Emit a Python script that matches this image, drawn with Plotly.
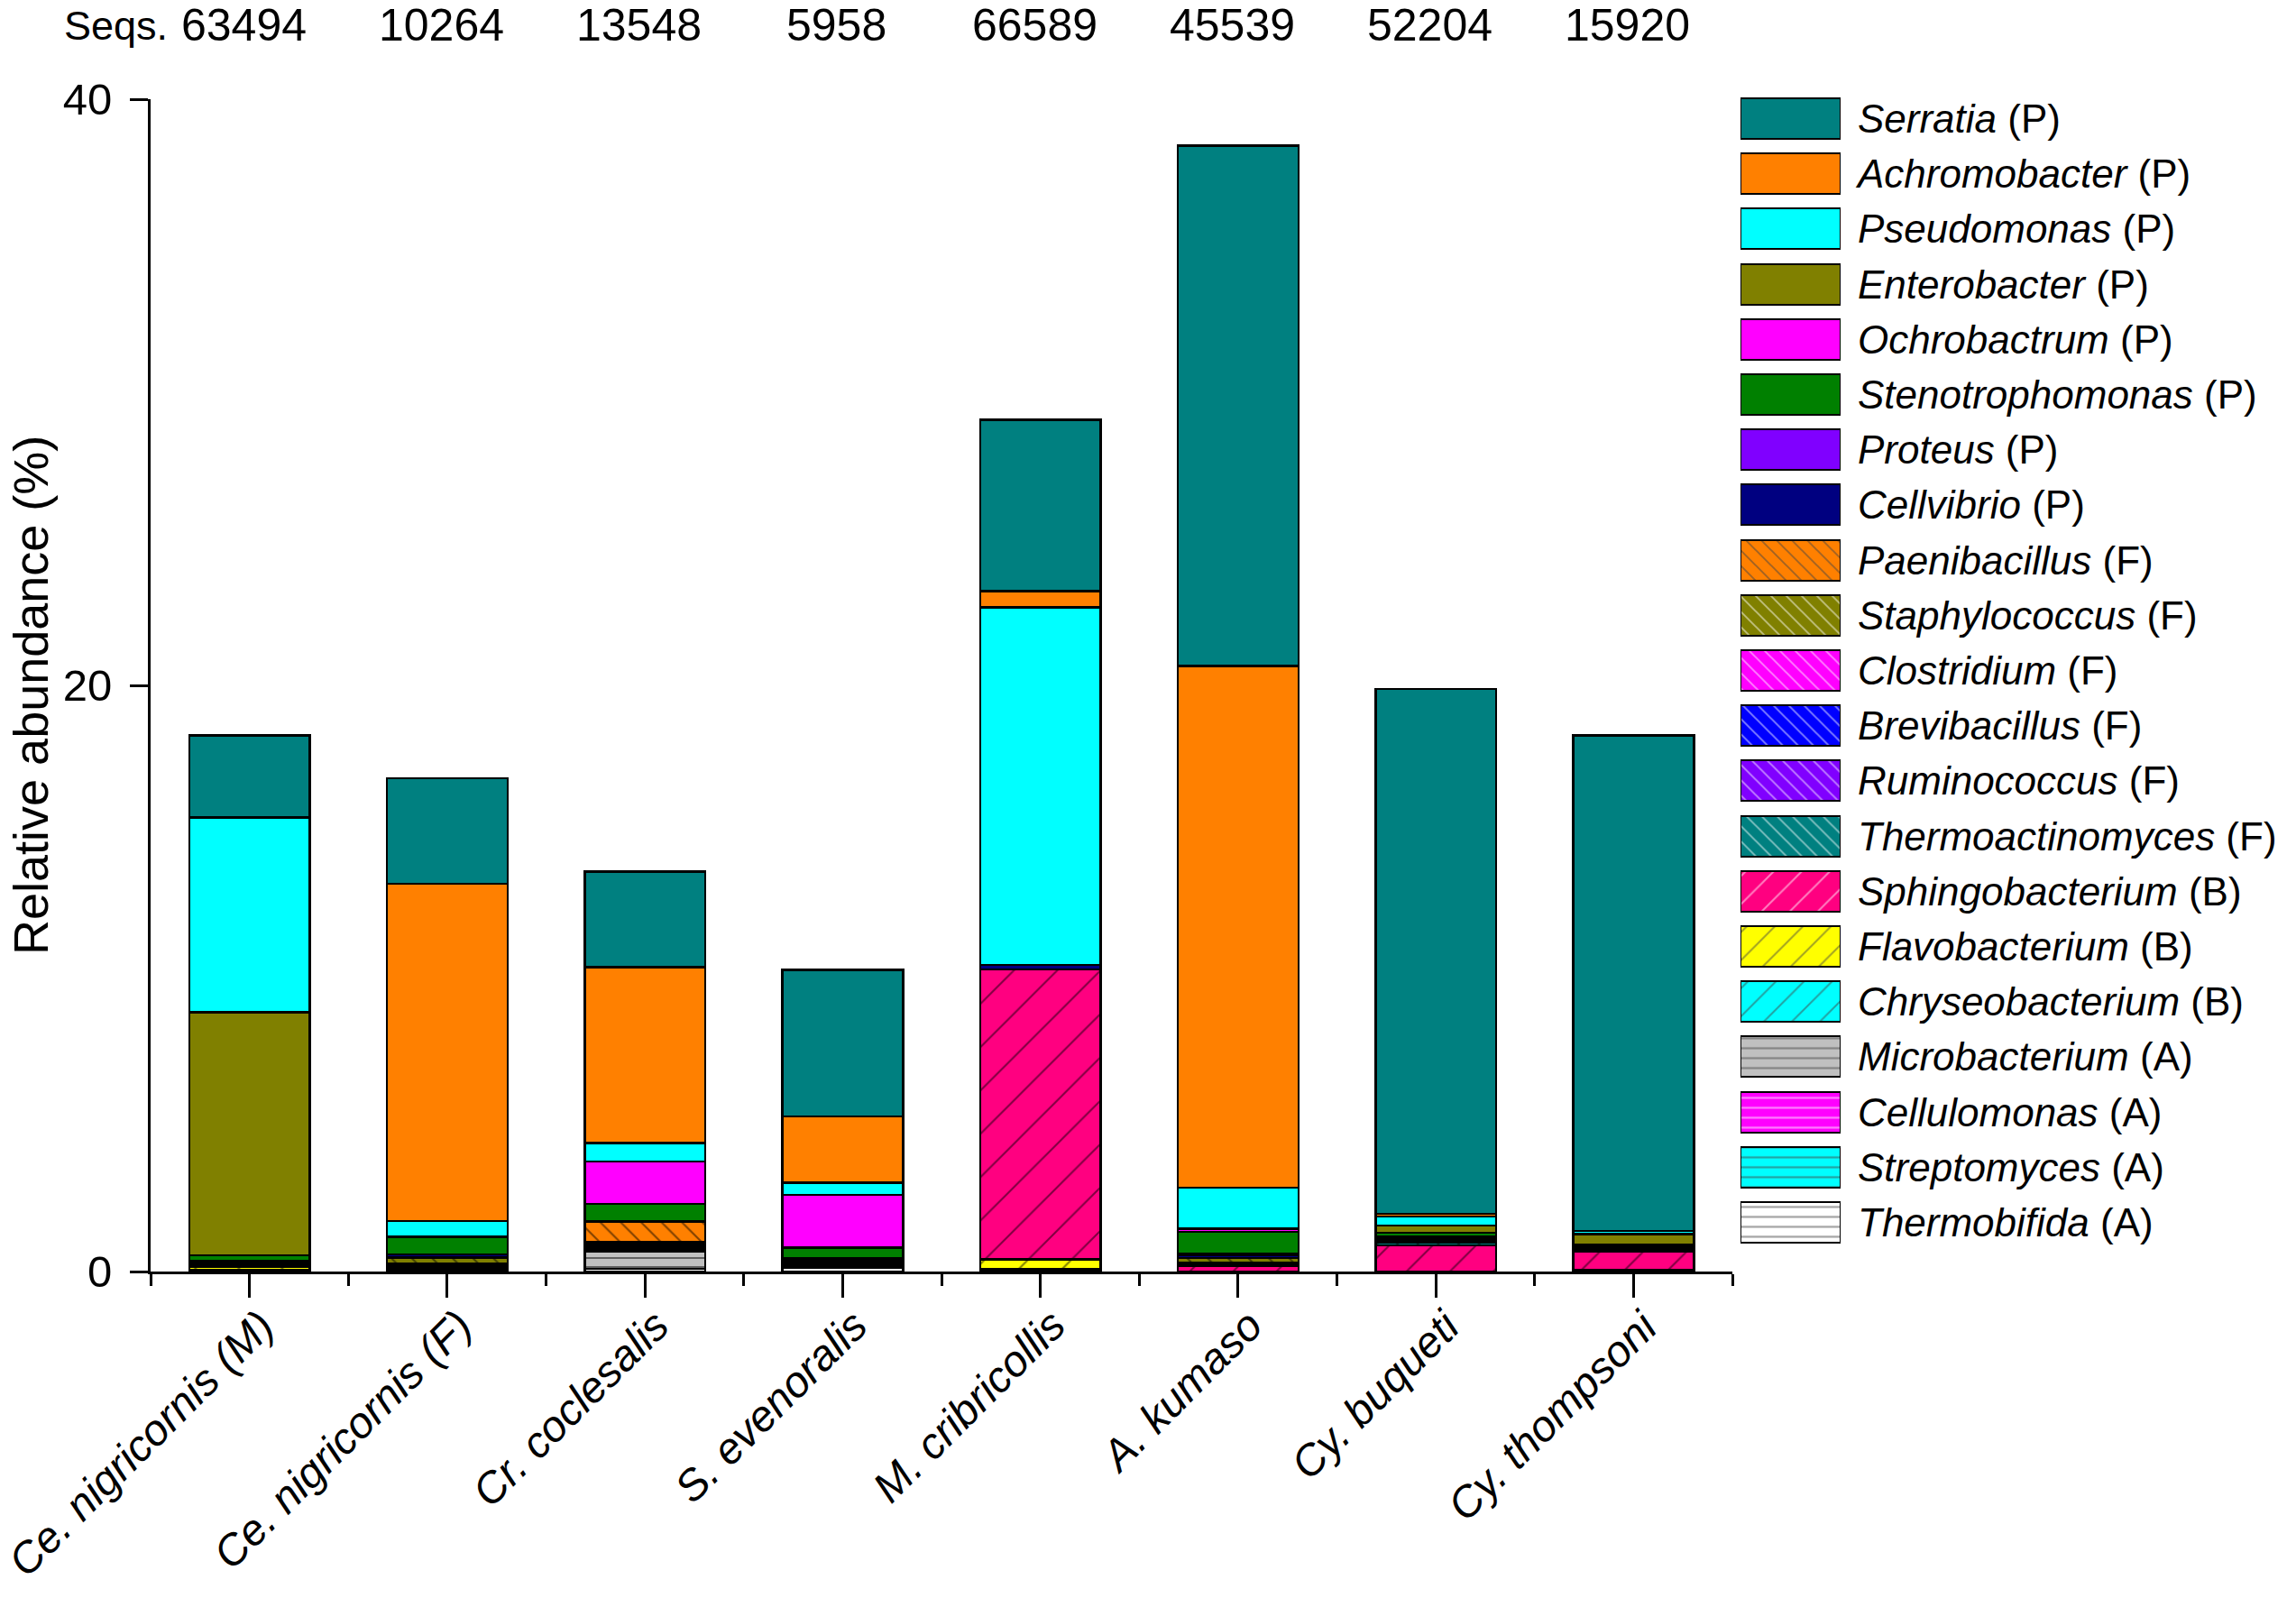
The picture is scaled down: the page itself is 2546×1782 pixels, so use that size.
import plotly.graph_objects as go

# ---------------- data ----------------
samples = ["Ce. nigricornis (M)", "Ce. nigricornis (F)", "Cr. coclesalis", "S. evenoralis",
           "M. cribricollis", "A. kumaso", "Cy. buqueti", "Cy. thompsoni"]
seqs = ["63494", "10264", "13548", "5958", "66589", "45539", "52204", "15920"]

# taxa listed top (legend order) -> stacked bottom-up in reverse
taxa = ["Serratia", "Achromobacter", "Pseudomonas", "Enterobacter", "Ochrobactrum",
        "Stenotrophomonas", "Proteus", "Cellvibrio", "Paenibacillus", "Staphylococcus",
        "Clostridium", "Brevibacillus", "Ruminococcus", "Thermoactinomyces",
        "Sphingobacterium", "Flavobacterium", "Chryseobacterium", "Microbacterium",
        "Cellulomonas", "Streptomyces", "Thermobifida"]
phylum = ["P", "P", "P", "P", "P", "P", "P", "P", "F", "F", "F", "F", "F", "F",
          "B", "B", "B", "A", "A", "A", "A"]

serratia          = [2.80, 3.60, 3.25, 5.00, 5.85, 17.75, 17.90, 16.90]
achromobacter     = [0.00, 11.50, 6.00, 2.26, 0.55, 17.80, 0.10, 0.00]
pseudomonas       = [6.65, 0.55, 0.63, 0.42, 12.20, 1.40, 0.30, 0.12]
enterobacter      = [8.30, 0.00, 0.00, 0.00, 0.00, 0.00, 0.25, 0.35]
ochrobactrum      = [0.00, 0.00, 1.45, 1.80, 0.00, 0.10, 0.00, 0.00]
stenotrophomonas  = [0.20, 0.60, 0.60, 0.35, 0.00, 0.75, 0.12, 0.00]
proteus           = [0.00, 0.00, 0.00, 0.00, 0.00, 0.05, 0.00, 0.00]
cellvibrio        = [0.00, 0.10, 0.00, 0.05, 0.15, 0.10, 0.00, 0.00]
paenibacillus     = [0.00, 0.00, 0.70, 0.00, 0.00, 0.00, 0.00, 0.00]
staphylococcus    = [0.00, 0.20, 0.00, 0.00, 0.00, 0.15, 0.00, 0.00]
clostridium       = [0.05, 0.05, 0.05, 0.06, 0.00, 0.03, 0.06, 0.05]
brevibacillus     = [0.05, 0.05, 0.06, 0.06, 0.00, 0.00, 0.08, 0.05]
ruminococcus      = [0.05, 0.05, 0.06, 0.06, 0.00, 0.03, 0.08, 0.06]
thermoactinomyces = [0.05, 0.05, 0.06, 0.06, 0.00, 0.05, 0.08, 0.06]
sphingobacterium  = [0.00, 0.08, 0.08, 0.05, 9.90, 0.20, 0.90, 0.65]
flavobacterium    = [0.10, 0.00, 0.00, 0.00, 0.33, 0.00, 0.00, 0.00]
chryseobacterium  = [0.00, 0.00, 0.00, 0.00, 0.08, 0.00, 0.00, 0.05]
microbacterium    = [0.00, 0.00, 0.60, 0.00, 0.00, 0.00, 0.00, 0.00]
cellulomonas      = [0.00, 0.00, 0.00, 0.00, 0.00, 0.00, 0.00, 0.00]
streptomyces      = [0.00, 0.00, 0.00, 0.00, 0.00, 0.00, 0.00, 0.00]
thermobifida      = [0.05, 0.00, 0.10, 0.12, 0.00, 0.00, 0.00, 0.00]

values = [serratia, achromobacter, pseudomonas, enterobacter, ochrobactrum,
          stenotrophomonas, proteus, cellvibrio, paenibacillus, staphylococcus,
          clostridium, brevibacillus, ruminococcus, thermoactinomyces,
          sphingobacterium, flavobacterium, chryseobacterium, microbacterium,
          cellulomonas, streptomyces, thermobifida]

y_ticks = [0, 20, 40]

# ---------------- styles ----------------
colors = ["#008080", "#FF8000", "#00FFFF", "#808000", "#FF00FF", "#008000", "#8000FF",
          "#000080", "#FF8000", "#808000", "#FF00FF", "#0000FF", "#8000FF", "#008080",
          "#FF0080", "#FFFF00", "#00FFFF", "#C0C0C0", "#FF00FF", "#00FFFF", "#FFFFFF"]
shapes = [""] * 8 + ["\\"] * 6 + ["/"] * 3 + ["-"] * 4
bar_size = {"": 10, "\\": 16, "/": 34, "-": 10}
bar_sol = {"": 0.1, "\\": 0.13, "/": 0.06, "-": 0.2}
leg_size = {"": 10, "\\": 12, "/": 22, "-": 11}
leg_sol = {"": 0.1, "\\": 0.16, "/": 0.09, "-": 0.2}

FONT = "Liberation Sans, Arial, sans-serif"
W, H = 2546, 1782

fig = go.Figure()
xpos = list(range(len(samples)))

for i in reversed(range(len(taxa))):
    shp = shapes[i]
    fig.add_trace(go.Bar(
        x=xpos, y=values[i], name=taxa[i], width=0.61,
        marker=dict(color=colors[i], line=dict(color="black", width=2.5),
                    pattern=dict(shape=shp, fgcolor="black", bgcolor=colors[i],
                                 fillmode="overlay", size=bar_size[shp],
                                 solidity=bar_sol[shp])),
        showlegend=False, hoverinfo="skip"))

# legend drawn as a small bar panel
fig.add_trace(go.Bar(
    x=[1] * len(taxa), y=list(range(len(taxa))), base=0, orientation="h", width=0.735,
    xaxis="x2", yaxis="y2",
    marker=dict(color=colors, line=dict(color="black", width=2),
                pattern=dict(shape=shapes, fgcolor="black", bgcolor=colors,
                             fillmode="overlay",
                             size=[leg_size[s] for s in shapes],
                             solidity=[leg_sol[s] for s in shapes])),
    showlegend=False, hoverinfo="skip"))

x0, x1 = 167 / W, 1921 / W
y0, y1 = 1 - 1410 / H, 1 - 110 / H

fig.update_layout(
    width=W, height=H, barmode="stack",
    margin=dict(l=0, r=0, t=0, b=0, autoexpand=False),
    paper_bgcolor="white", plot_bgcolor="white",
    font=dict(family=FONT, color="black"),
    xaxis=dict(domain=[x0, x1], range=[-0.5, len(samples) - 0.5],
               tickmode="array", tickvals=xpos, showticklabels=False,
               ticks="outside", ticklen=26, tickwidth=3, tickcolor="black",
               minor=dict(tickmode="array",
                          tickvals=[p - 0.5 for p in range(len(samples) + 1)],
                          ticks="outside", ticklen=13, tickwidth=3, tickcolor="black"),
               showline=True, linewidth=3, linecolor="black", automargin=False,
               showgrid=False, zeroline=False, anchor="y"),
    yaxis=dict(domain=[y0, y1], range=[0, 40], tickmode="array", tickvals=y_ticks,
               tickfont=dict(size=49, family=FONT),
               ticks="outside", ticklen=20, tickwidth=3, tickcolor="black",
               ticklabelstandoff=10, automargin=False,
               showline=True, linewidth=3, linecolor="black",
               showgrid=False, zeroline=False, anchor="x"),
    xaxis2=dict(domain=[1930 / W, 2041 / W], range=[0, 1], visible=False,
                anchor="y2", automargin=False),
    yaxis2=dict(domain=[1 - 1386.1 / H, 1 - 100.9 / H], range=[len(taxa) - 0.5, -0.5],
                anchor="x2", side="right", tickmode="array",
                tickvals=list(range(len(taxa))),
                ticktext=["<i>%s</i> (%s)" % (t, p) for t, p in zip(taxa, phylum)],
                tickfont=dict(size=44, family=FONT), ticks="",
                ticklabelstandoff=18, automargin=False, ticklabeloverflow="allow",
                showline=False, showgrid=False, zeroline=False),
)

# rotated sample labels under the x axis
for xi, s in zip(xpos, samples):
    fig.add_annotation(text="<i>%s</i>" % s, textangle=-45, showarrow=False,
                       xref="x", yref="paper", x=xi, xshift=40, y=1 - 1440 / H,
                       xanchor="right", yanchor="top",
                       font=dict(size=48, family=FONT))

# y-axis title
fig.add_annotation(text="Relative abundance (%)", textangle=-90, showarrow=False,
                   xref="paper", yref="paper", x=34 / W, y=1 - 771 / H,
                   xanchor="center", yanchor="middle",
                   font=dict(size=54, family=FONT))
# Seqs row
fig.add_annotation(text="Seqs.", showarrow=False, xref="paper", yref="paper",
                   x=128 / W, y=1 - 28 / H, xanchor="center", yanchor="middle",
                   font=dict(size=45, family=FONT))
for xi, s in zip(xpos, seqs):
    fig.add_annotation(text=s, showarrow=False, xref="x", yref="paper",
                       x=xi - 0.03, y=1 - 28 / H, xanchor="center", yanchor="middle",
                       font=dict(size=50, family=FONT))

fig.write_html("out.html", config={"displayModeBar": False},
               post_script="document.body.style.margin='0px';")
